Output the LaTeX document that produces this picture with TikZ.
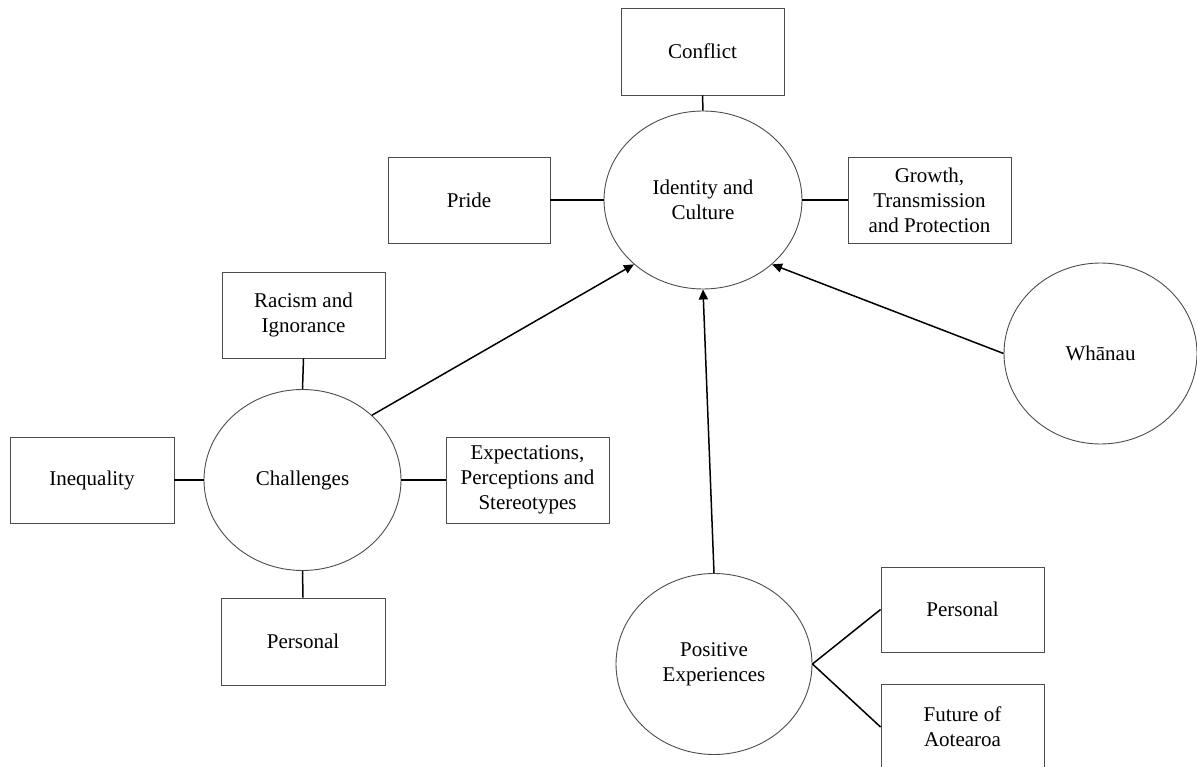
\documentclass[tikz,border=0pt]{standalone}
\usepackage{fontspec}
\setmainfont{Liberation Serif}
\usetikzlibrary{shapes.geometric,arrows.meta}
\begin{document}
\begin{tikzpicture}[x=1pt,y=-1pt,
  every node/.style={font=\fontsize{21}{25}\selectfont, align=center, inner sep=0pt, text=black},
  box/.style={draw=black!70, line width=0.9pt, rectangle, minimum width=163pt, minimum height=86pt},
  circ/.style={draw=black!70, line width=0.9pt, ellipse},
  link/.style={draw=black, line width=1.5pt},
  arr/.style={draw=black, line width=1.5pt, -{Triangle[length=10pt,width=9pt]}}]
\useasboundingbox (0,0) rectangle (1197,767);
% ellipses
\node[circ, minimum width=198pt, minimum height=178pt] (id) at (703,200) {Identity and\\Culture};
\node[circ, minimum width=197pt, minimum height=181pt] (ch) at (302.5,480) {Challenges};
\node[circ, minimum width=193pt, minimum height=181pt] (wh) at (1100.5,353.5) {Whānau};
\node[circ, minimum width=196pt, minimum height=181pt] (pos) at (714,664) {Positive\\Experiences};
% boxes
\node[box, minimum height=87pt] (conf) at (702.5,51.5) {Conflict};
\node[box, minimum width=162pt] (pride) at (469,200) {Pride};
\node[box] (grow) at (929.5,200) {Growth,\\Transmission\\and Protection};
\node[box] (rac) at (303.5,315) {Racism and\\Ignorance};
\node[box, minimum width=164pt] (ineq) at (92,480) {Inequality};
\node[box] (exp) at (527.5,480) {Expectations,\\Perceptions and\\Stereotypes};
\node[box, minimum width=164pt, minimum height=87pt] (persL) at (303,641.5) {Personal};
\node[box, minimum height=85pt] (persR) at (962.5,609.5) {Personal};
\node[box] (fut) at (962.5,727) {Future of\\Aotearoa};
% links
\draw[link] (conf.south) -- (id.north);
\draw[link] (pride.east) -- (id.west);
\draw[link] (id.east) -- (grow.west);
\draw[link] (rac.south) -- (ch.north);
\draw[link] (ineq.east) -- (ch.west);
\draw[link] (ch.east) -- (exp.west);
\draw[link] (ch.south) -- (persL.north);
\draw[link] (pos.east) -- (persR.west);
\draw[link] (pos.east) -- (fut.west);
% arrows
\draw[arr] (ch.43) -- (id.223);
\draw[arr] (pos.north) -- (id.south);
\draw[arr] (wh.west) -- (id.317);
\end{tikzpicture}
\end{document}
